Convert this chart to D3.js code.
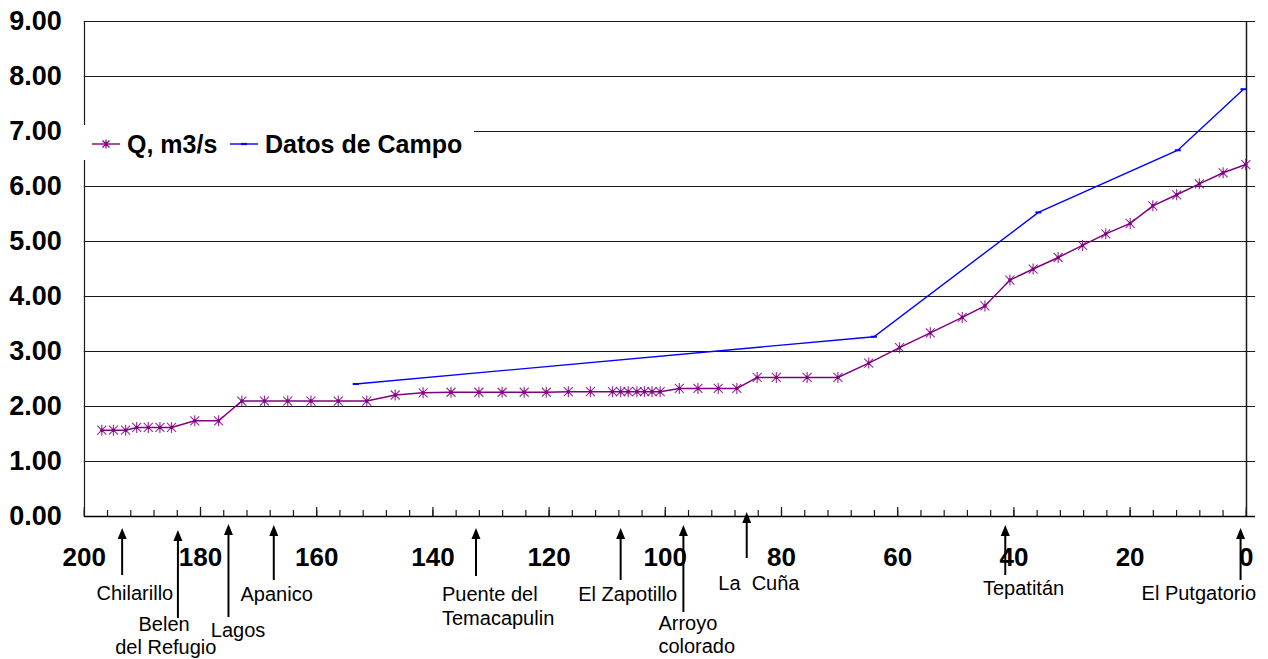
<!DOCTYPE html>
<html>
<head>
<meta charset="utf-8">
<script src="https://cdn.jsdelivr.net/npm/d3@7"></script>
<style>
  html, body { margin: 0; padding: 0; background: #fff; }
  svg { display: block; font-family: "Liberation Sans", Arial, sans-serif; }
</style>
</head>
<body>
<svg id="chart" width="1268" height="659"></svg>
<script>
// ---------------- DATA ----------------
const qKm = [196.9, 194.9, 192.8, 190.9, 188.9, 186.9, 184.9, 180.9, 176.8, 172.8,
             168.9, 164.9, 160.9, 156.2, 151.3, 146.4, 141.6, 136.8, 132.0, 128.0,
             124.2, 120.4, 116.6, 112.8, 109.0, 107.6, 106.3, 104.8, 103.5, 102.2,
             100.8, 97.5, 94.3, 90.8, 87.6, 84.1, 80.8, 75.5, 70.2, 64.9,
             59.6, 54.3, 48.8, 44.9, 40.6, 36.6, 32.3, 28.1, 24.1, 19.9,
             16.0, 11.9, 8.0, 3.9, 0];
const qVal = [1.56, 1.56, 1.56, 1.61, 1.61, 1.61, 1.61, 1.73, 1.73, 2.09,
              2.09, 2.09, 2.09, 2.09, 2.09, 2.20, 2.24, 2.25, 2.25, 2.25,
              2.25, 2.25, 2.26, 2.26, 2.26, 2.26, 2.26, 2.26, 2.26, 2.26,
              2.26, 2.32, 2.32, 2.32, 2.32, 2.52, 2.52, 2.52, 2.52, 2.78,
              3.06, 3.33, 3.61, 3.82, 4.29, 4.49, 4.70, 4.92, 5.13, 5.32,
              5.64, 5.84, 6.04, 6.24, 6.39];
const fieldKm = [153.2, 64.0, 35.7, 11.7, 0.4];
const fieldVal = [2.40, 3.26, 5.52, 6.65, 7.76];

const seriesNames = ["Q, m3/s", "Datos de Campo"];
const xTickValues = [200, 180, 160, 140, 120, 100, 80, 60, 40, 20, 0];
const yTickValues = [0, 1, 2, 3, 4, 5, 6, 7, 8, 9];

const stationNames = [["Chilarillo"], ["Belen", "del Refugio"], ["Lagos"], ["Apanico"],
                      ["Puente del", "Temacapulin"], ["El Zapotillo"], ["Arroyo", "colorado"],
                      ["La  Cuña"], ["Tepatitán"], ["El Putgatorio"]];
const stationKm = [193.4, 183.8, 175.1, 167.3, 132.5, 107.6, 96.8, 85.9, 41.4, 0.9];

// ---------------- LAYOUT (separate from data) ----------------
const stationLayout = [
  {top: 528, bottom: 575, dx: [-25.6], base: [600]},
  {top: 530, bottom: 618, dx: [-39.4, -62.7], base: [631, 654]},
  {top: 524, bottom: 617, dx: [-17.6], base: [637]},
  {top: 525, bottom: 580, dx: [-33.3], base: [601]},
  {top: 528, bottom: 576, dx: [-34, -34], base: [601, 625]},
  {top: 528, bottom: 580, dx: [-42.4], base: [601]},
  {top: 525, bottom: 612, dx: [-25, -25], base: [630, 653]},
  {top: 512, bottom: 558, dx: [-28.4], base: [590]},
  {top: 525, bottom: 575, dx: [-22.3], base: [595]},
  {top: 528, bottom: 580, dx: [-99], base: [600]}
];

const svg = d3.select("#chart");
const X0 = 83.8, X1 = 1245.8, Y0 = 516, Y1 = 21;
const x = d3.scaleLinear().domain([200, 0]).range([X0, X1]);
const y = d3.scaleLinear().domain([0, 9]).range([Y0, Y1]);
const xRight = x(-1.6);

svg.append("rect").attr("width", 1268).attr("height", 659).attr("fill", "#fff");

// gridlines
svg.append("g").selectAll("line").data(yTickValues.filter(d => d > 0)).join("line")
  .attr("x1", X0).attr("x2", xRight)
  .attr("y1", d => Math.round(y(d)) + 0.5).attr("y2", d => Math.round(y(d)) + 0.5)
  .attr("stroke", "#1a1a1a").attr("stroke-width", 1.2);

// left border and right (y at 0) line
svg.append("line").attr("x1", Math.round(X0) + 0.5).attr("x2", Math.round(X0) + 0.5)
  .attr("y1", y(9)).attr("y2", Y0).attr("stroke", "#1a1a1a").attr("stroke-width", 1.2);
svg.append("line").attr("x1", Math.round(x(0)) + 0.5).attr("x2", Math.round(x(0)) + 0.5)
  .attr("y1", y(9)).attr("y2", Y0).attr("stroke", "#1a1a1a").attr("stroke-width", 1.5);

// x axis: minor ticks
const minorTicks = d3.range(200, -1, -4);
const gMinor = svg.append("g").attr("transform", `translate(0,${Y0})`)
  .call(d3.axisBottom(x).tickValues(minorTicks).tickSize(-6).tickFormat(""));
gMinor.select(".domain").remove();
gMinor.selectAll("line").attr("stroke", "#1a1a1a").attr("stroke-width", 1.2);

const gX = svg.append("g").attr("transform", `translate(0,${Y0})`)
  .call(d3.axisBottom(x).tickValues(xTickValues).tickSize(-9).tickPadding(32).tickFormat(d3.format("d")));
gX.select(".domain").remove();
gX.selectAll("line").attr("stroke", "#1a1a1a").attr("stroke-width", 1.2);
gX.selectAll("text").attr("font-size", 26).attr("font-weight", "bold").attr("fill", "#000")
  .attr("font-family", "Liberation Sans, Arial, sans-serif");

svg.append("line").attr("x1", X0).attr("x2", xRight).attr("y1", Y0 + 0.5).attr("y2", Y0 + 0.5)
  .attr("stroke", "#000").attr("stroke-width", 1.5);

// y axis labels
const gY = svg.append("g").attr("transform", `translate(${X0},0)`)
  .call(d3.axisLeft(y).tickValues(yTickValues).tickSize(0).tickPadding(22).tickFormat(d3.format(".2f")));
gY.select(".domain").remove();
gY.selectAll("text").attr("font-size", 27).attr("font-weight", "bold").attr("fill", "#000")
  .attr("font-family", "Liberation Sans, Arial, sans-serif");

// series
const qData = qKm.map((k, i) => ({k, v: qVal[i]}));
const fData = fieldKm.map((k, i) => ({k, v: fieldVal[i]}));
const line = d3.line().x(d => x(d.k)).y(d => y(d.v));

const purple = "#800080";
const blue = "#0000ff";

svg.append("path").datum(fData).attr("d", line).attr("fill", "none")
  .attr("stroke", blue).attr("stroke-width", 1.4);
svg.append("g").selectAll("line").data(fData).join("line")
  .attr("x1", d => x(d.k) - 3).attr("x2", d => x(d.k) + 3)
  .attr("y1", d => y(d.v)).attr("y2", d => y(d.v))
  .attr("stroke", blue).attr("stroke-width", 2);

svg.append("path").datum(qData).attr("d", line).attr("fill", "none")
  .attr("stroke", purple).attr("stroke-width", 1.5);

function asterisk(cx, cy, r) {
  return `M${cx - r},${cy - r}L${cx + r},${cy + r}M${cx - r},${cy + r}L${cx + r},${cy - r}` +
         `M${cx},${cy - r - 1}L${cx},${cy + r + 1}`;
}
svg.append("g").selectAll("path").data(qData).join("path")
  .attr("d", d => asterisk(x(d.k), y(d.v), 4.5))
  .attr("fill", "none").attr("stroke", purple).attr("stroke-width", 1.2).attr("stroke-opacity", 0.8);
svg.append("g").selectAll("circle").data(qData).join("circle")
  .attr("cx", d => x(d.k)).attr("cy", d => y(d.v)).attr("r", 1.7).attr("fill", purple);

// legend
const lg = svg.append("g");
lg.append("rect").attr("x", 82).attr("y", 125).attr("width", 392).attr("height", 35).attr("fill", "#fff");
const ly = 144;
lg.append("line").attr("x1", 92).attr("x2", 120).attr("y1", ly).attr("y2", ly)
  .attr("stroke", purple).attr("stroke-width", 1.4);
lg.append("path").attr("d", asterisk(106, ly, 3.5)).attr("fill", "none")
  .attr("stroke", purple).attr("stroke-width", 1.2);
lg.append("circle").attr("cx", 106).attr("cy", ly).attr("r", 1.4).attr("fill", purple);
lg.append("text").attr("x", 127).attr("y", ly).attr("dy", "0.36em")
  .attr("font-size", 25).attr("font-weight", "bold").text(seriesNames[0]);
lg.append("line").attr("x1", 230).attr("x2", 258).attr("y1", ly).attr("y2", ly)
  .attr("stroke", blue).attr("stroke-width", 1.4);
lg.append("line").attr("x1", 241).attr("x2", 247).attr("y1", ly).attr("y2", ly)
  .attr("stroke", blue).attr("stroke-width", 2.2);
lg.append("text").attr("x", 265).attr("y", ly).attr("dy", "0.36em")
  .attr("font-size", 25).attr("font-weight", "bold").text(seriesNames[1]);

// station arrows and labels
const ann = svg.append("g");
stationKm.forEach((k, i) => {
  const L = stationLayout[i];
  const ax = x(k);
  ann.append("line").attr("x1", ax).attr("x2", ax).attr("y1", L.top + 8).attr("y2", L.bottom)
    .attr("stroke", "#000").attr("stroke-width", 2);
  ann.append("path").attr("d", `M${ax},${L.top}L${ax - 4.5},${L.top + 11}L${ax + 4.5},${L.top + 11}Z`)
    .attr("fill", "#000");
  stationNames[i].forEach((t, j) => {
    ann.append("text").attr("x", ax + L.dx[j]).attr("y", L.base[j])
      .attr("font-size", 20).attr("fill", "#000").style("white-space", "pre").text(t);
  });
});
</script>
</body>
</html>
